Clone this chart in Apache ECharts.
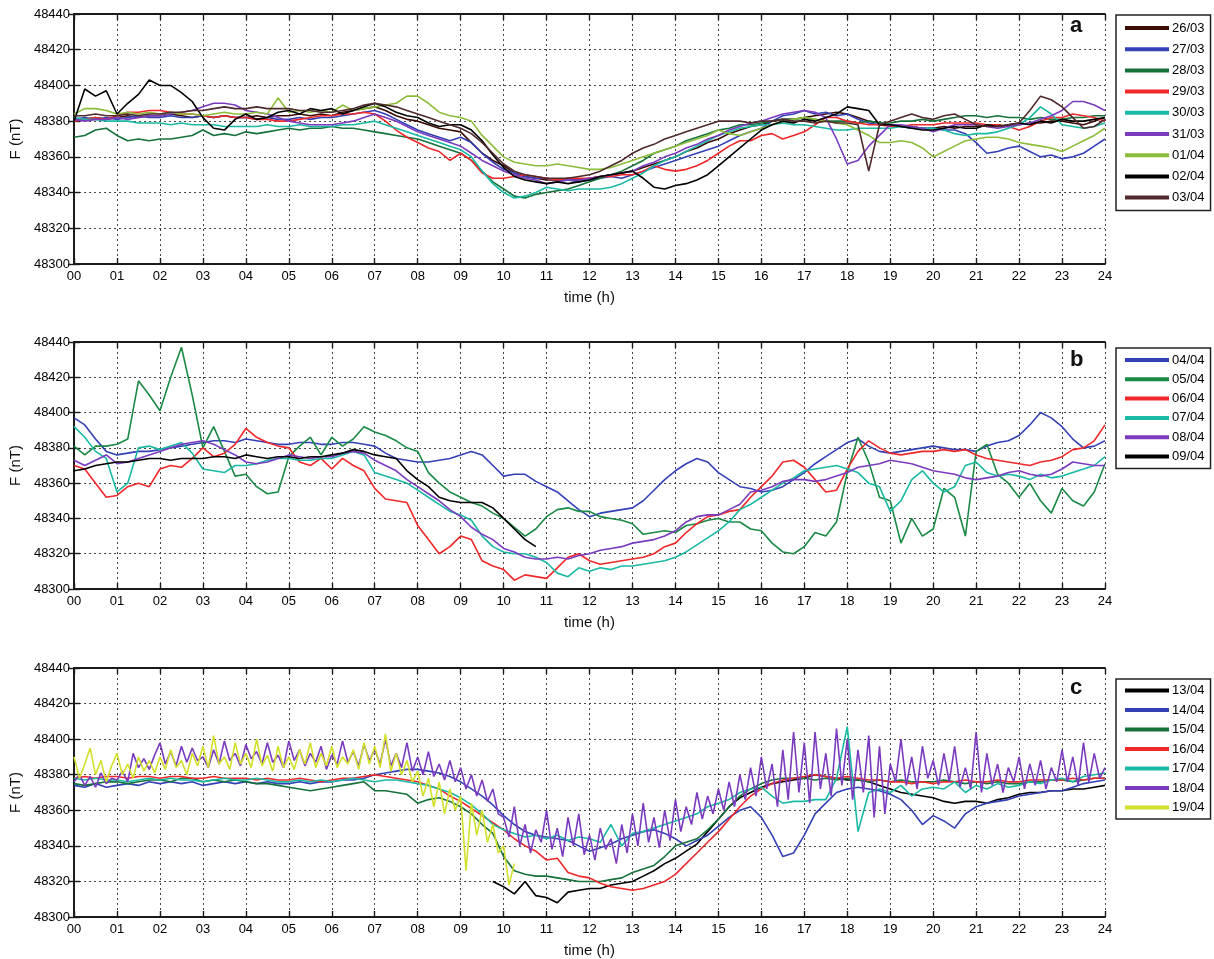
<!DOCTYPE html>
<html>
<head>
<meta charset="utf-8">
<script src="https://cdn.jsdelivr.net/npm/echarts@6/dist/echarts.min.js"></script>
<style>
  html, body { margin: 0; padding: 0; background: #fff; }
  #chart { width: 1214px; height: 959px; }
</style>
</head>
<body>
<div id="chart"></div>
<script>
// time grid (hours) and tick labels
const hourTicks = ['00','01','02','03','04','05','06','07','08','09','10','11','12','13','14','15','16','17','18','19','20','21','22','23','24'];
const yTicks = [48300, 48320, 48340, 48360, 48380, 48400, 48420, 48440];

// ---- panel a (26/03 - 03/04), one value every 15 min ----
const namesA = ['26/03', '27/03', '28/03', '29/03', '30/03', '31/03', '01/04', '02/04', '03/04'];
const colorsA = ['#3a0c06', '#3341b5', '#16723a', '#f0282a', '#19b9a4', '#7b3bbf', '#8cbd3a', '#000000', '#4e2a2c'];

const a2603 = [
  48380,48381,48382,48381, 48382,48383,48382,48383, 48383,48384,48383,48382, 48383,48382,48383,48382,
  48382,48383,48382,48383, 48383,48384,48383,48384, 48383,48385,48386,48387, 48388,48386,48383,48381,
  48380,48378,48376,48375, 48374,48368,48362,48358, 48355,48351,48349,48348, 48347,48347,48348,48347,
  48348,48349,48350,48351, 48352,48354,48356,48358, 48360,48363,48365,48368, 48370,48373,48375,48377,
  48378,48380,48381,48381, 48382,48383,48384,48385, 48384,48382,48380,48379, 48378,48377,48377,48376,
  48376,48377,48376,48377, 48377,48378,48378,48377, 48378,48379,48379,48380, 48380,48379,48378,48380,
  48382];
const a2703 = [
  48381,48382,48381,48382, 48381,48382,48383,48382, 48382,48383,48382,48382, 48383,48382,48383,48382,
  48382,48381,48382,48381, 48381,48382,48381,48382, 48382,48383,48384,48385, 48386,48384,48381,48378,
  48375,48373,48371,48369, 48371,48368,48362,48357, 48353,48351,48349,48348, 48348,48347,48347,48346,
  48347,48348,48349,48348, 48350,48352,48354,48356, 48358,48360,48362,48364, 48366,48369,48372,48374,
  48376,48380,48383,48384, 48386,48384,48385,48383, 48384,48381,48379,48378, 48378,48377,48376,48376,
  48376,48375,48375,48373, 48368,48362,48363,48365, 48366,48363,48360,48361, 48359,48360,48362,48366,
  48370];
const a2803 = [
  48371,48372,48375,48376, 48372,48369,48370,48369, 48370,48370,48371,48372, 48375,48372,48373,48372,
  48374,48373,48374,48375, 48376,48375,48376,48376, 48377,48376,48376,48375, 48374,48373,48372,48371,
  48370,48368,48366,48364, 48362,48358,48352,48346, 48342,48338,48337,48339, 48340,48341,48342,48344,
  48346,48348,48350,48352, 48355,48358,48362,48364, 48366,48369,48371,48373, 48375,48376,48378,48378,
  48379,48380,48381,48381, 48382,48381,48380,48380, 48380,48379,48380,48379, 48379,48380,48380,48381,
  48380,48381,48382,48383, 48383,48382,48383,48382, 48382,48381,48382,48381, 48381,48382,48382,48383,
  48383];
const a2903 = [
  48380,48381,48382,48381, 48383,48385,48385,48386, 48386,48385,48384,48384, 48383,48382,48383,48382,
  48382,48381,48381,48380, 48380,48381,48382,48383, 48383,48384,48384,48385, 48384,48380,48375,48371,
  48368,48365,48363,48358, 48362,48358,48351,48348, 48348,48349,48350,48349, 48348,48347,48348,48348,
  48348,48349,48349,48350, 48350,48352,48355,48353, 48352,48353,48355,48358, 48362,48366,48369,48369,
  48372,48373,48370,48372, 48374,48378,48382,48382, 48380,48379,48378,48378, 48377,48377,48378,48378,
  48378,48379,48379,48379, 48379,48378,48378,48377, 48375,48377,48380,48382, 48382,48384,48383,48382,
  48380];
const a3003 = [
  48382,48381,48381,48380, 48380,48380,48379,48379, 48379,48378,48379,48378, 48378,48378,48377,48377,
  48377,48377,48378,48377, 48377,48378,48377,48377, 48377,48378,48378,48379, 48380,48378,48376,48374,
  48372,48370,48368,48366, 48364,48360,48352,48345, 48340,48337,48338,48340, 48343,48342,48341,48342,
  48342,48342,48343,48345, 48348,48351,48355,48358, 48360,48363,48366,48369, 48372,48374,48376,48377,
  48378,48378,48379,48378, 48378,48377,48376,48375, 48375,48376,48376,48376, 48376,48377,48376,48376,
  48376,48375,48373,48372, 48373,48373,48374,48376, 48378,48382,48388,48384, 48378,48377,48376,48377,
  48379];
const a3103 = [
  48381,48380,48381,48381, 48382,48381,48382,48383, 48383,48384,48385,48386, 48388,48390,48390,48389,
  48386,48385,48384,48382, 48380,48379,48378,48378, 48378,48379,48380,48382, 48384,48382,48380,48377,
  48374,48372,48370,48368, 48366,48362,48358,48355, 48352,48350,48348,48347, 48345,48346,48347,48347,
  48348,48349,48350,48351, 48352,48355,48357,48360, 48362,48365,48367,48370, 48372,48375,48377,48379,
  48380,48382,48384,48385, 48386,48385,48382,48370, 48356,48358,48366,48372, 48378,48378,48377,48376,
  48374,48376,48378,48378, 48378,48377,48376,48377, 48378,48379,48381,48383, 48386,48391,48391,48389,
  48386];
const a0104 = [
  48384,48387,48387,48386, 48384,48385,48384,48385, 48384,48385,48384,48384, 48383,48384,48385,48384,
  48384,48385,48384,48393, 48385,48386,48385,48386, 48385,48389,48386,48387, 48388,48389,48390,48394,
  48394,48390,48385,48383, 48382,48380,48372,48366, 48360,48357,48356,48355, 48355,48356,48355,48354,
  48353,48353,48354,48356, 48358,48360,48362,48364, 48366,48368,48370,48372, 48375,48373,48372,48374,
  48376,48378,48380,48381, 48382,48381,48380,48379, 48378,48375,48372,48368, 48368,48369,48368,48365,
  48360,48363,48366,48369, 48370,48371,48371,48370, 48368,48367,48366,48365, 48363,48366,48369,48372,
  48376];
const a0204 = [
  48380,48398,48394,48397, 48384,48390,48395,48403, 48400,48400,48396,48391, 48382,48376,48375,48381,
  48384,48381,48382,48385, 48386,48384,48387,48386, 48387,48384,48386,48388, 48390,48388,48385,48383,
  48382,48379,48377,48378, 48378,48375,48369,48361, 48354,48349,48347,48346, 48345,48346,48345,48346,
  48347,48349,48350,48351, 48352,48348,48343,48342, 48344,48345,48347,48350, 48355,48360,48365,48370,
  48375,48378,48380,48379, 48381,48380,48382,48384, 48388,48387,48386,48378, 48378,48377,48376,48375,
  48375,48376,48377,48376, 48376,48378,48377,48378, 48379,48378,48380,48379, 48381,48380,48380,48381,
  48382];
const a0304 = [
  48383,48383,48384,48383, 48383,48384,48383,48384, 48384,48385,48385,48386, 48386,48387,48388,48387,
  48387,48388,48387,48387, 48387,48386,48386,48385, 48385,48386,48387,48389, 48390,48389,48388,48386,
  48384,48382,48380,48378, 48376,48373,48368,48362, 48356,48352,48350,48349, 48348,48348,48348,48349,
  48350,48352,48355,48358, 48362,48365,48367,48370, 48372,48374,48376,48378, 48380,48380,48380,48379,
  48380,48380,48381,48380, 48380,48379,48380,48379, 48379,48378,48352,48378, 48380,48382,48384,48382,
  48381,48383,48384,48381, 48378,48377,48377,48378, 48379,48386,48394,48392, 48388,48382,48376,48377,
  48381];

// ---- panel b (04/04 - 09/04) ----
const namesB = ['04/04', '05/04', '06/04', '07/04', '08/04', '09/04'];
const colorsB = ['#3341b5', '#1a8a45', '#f0282a', '#19b9a4', '#7b3bbf', '#000000'];

const b0404 = [
  48397,48393,48385,48378, 48376,48377,48378,48378, 48379,48380,48381,48382, 48383,48384,48384,48383,
  48385,48384,48383,48382, 48382,48383,48383,48382, 48382,48383,48383,48382, 48381,48377,48374,48373,
  48372,48372,48373,48374, 48376,48378,48376,48370, 48364,48365,48365,48361, 48358,48355,48350,48345,
  48341,48343,48344,48345, 48346,48350,48356,48362, 48367,48371,48374,48372, 48366,48362,48358,48357,
  48355,48356,48358,48362, 48366,48371,48375,48379, 48383,48385,48381,48378, 48377,48378,48379,48380,
  48381,48380,48379,48379, 48378,48381,48383,48384, 48387,48393,48400,48397, 48392,48385,48380,48381,
  48384];
const b0504 = [
  48381,48376,48381,48381, 48382,48385,48418,48410, 48401,48420,48437,48410, 48380,48392,48378,48364,
  48365,48358,48354,48355, 48375,48381,48386,48376, 48386,48381,48385,48392, 48389,48387,48384,48380,
  48378,48366,48360,48355, 48352,48349,48347,48343, 48340,48335,48330,48334, 48341,48345,48346,48344,
  48344,48341,48340,48339, 48337,48331,48332,48333, 48332,48336,48337,48339, 48340,48338,48338,48334,
  48333,48326,48321,48320, 48324,48332,48330,48338, 48366,48386,48372,48352, 48350,48326,48340,48330,
  48334,48357,48352,48330, 48378,48382,48365,48360, 48352,48360,48350,48343, 48357,48350,48347,48355,
  48371];
const b0604 = [
  48370,48368,48360,48352, 48353,48358,48360,48358, 48368,48370,48369,48374, 48380,48375,48377,48382,
  48391,48386,48383,48381, 48380,48372,48370,48374, 48368,48374,48370,48367, 48357,48351,48350,48349,
  48336,48328,48320,48324, 48330,48328,48316,48313, 48311,48305,48308,48307, 48306,48312,48318,48320,
  48316,48314,48315,48316, 48317,48318,48320,48324, 48326,48332,48337,48341, 48342,48344,48345,48352,
  48358,48364,48372,48373, 48369,48362,48355,48356, 48368,48378,48384,48380, 48377,48376,48377,48378,
  48378,48379,48378,48379, 48376,48374,48373,48372, 48371,48370,48372,48373, 48375,48379,48380,48384,
  48393];
const b0704 = [
  48392,48386,48378,48374, 48355,48360,48380,48381, 48379,48381,48383,48377, 48368,48367,48366,48370,
  48370,48371,48373,48374, 48374,48373,48373,48374, 48374,48376,48378,48376, 48366,48364,48362,48360,
  48356,48352,48348,48344, 48342,48339,48330,48324, 48321,48320,48320,48318, 48315,48309,48307,48312,
  48310,48312,48311,48313, 48313,48314,48315,48316, 48318,48321,48325,48329, 48333,48338,48345,48348,
  48352,48356,48360,48363, 48367,48368,48369,48370, 48368,48366,48360,48358, 48344,48350,48362,48367,
  48360,48355,48358,48370, 48372,48366,48364,48365, 48364,48362,48365,48363, 48364,48366,48368,48370,
  48375];
const b0804 = [
  48373,48370,48373,48376, 48371,48372,48374,48376, 48378,48380,48382,48383, 48384,48382,48379,48376,
  48372,48371,48372,48374, 48376,48375,48374,48375, 48375,48377,48378,48377, 48373,48370,48367,48362,
  48358,48354,48350,48345, 48341,48335,48331,48328, 48323,48321,48318,48317, 48317,48318,48317,48319,
  48320,48322,48323,48324, 48326,48327,48328,48330, 48333,48338,48341,48342, 48342,48345,48348,48355,
  48356,48358,48361,48362, 48362,48361,48362,48364, 48366,48369,48370,48371, 48373,48372,48371,48369,
  48367,48366,48365,48363, 48362,48363,48364,48366, 48367,48365,48364,48365, 48368,48372,48371,48370,
  48370];
// 09/04 stops at 10:45
const b0904 = [
  48367,48368,48370,48371, 48372,48372,48373,48374, 48374,48373,48374,48374, 48374,48375,48375,48374,
  48376,48375,48374,48375, 48375,48374,48375,48375, 48376,48377,48379,48378, 48376,48375,48374,48367,
  48362,48358,48352,48350, 48349,48349,48349,48346, 48340,48334,48328,48324];

// ---- panel c (13/04 - 19/04) ----
const namesC = ['13/04', '14/04', '15/04', '16/04', '17/04', '18/04', '19/04'];
const colorsC = ['#000000', '#3341b5', '#16723a', '#f0282a', '#19b9a4', '#7b3bbf', '#d2e02a'];

// 13/04 starts at 09:45
const c1304 = [
  48320,
  48317,48313,48320,48312, 48311,48308,48314,48315, 48316,48316,48318,48319, 48320,48323,48326,48330,
  48333,48337,48341,48348, 48355,48362,48367,48370, 48373,48375,48376,48377, 48378,48380,48379,48378,
  48377,48377,48376,48374, 48372,48370,48369,48368, 48367,48365,48364,48365, 48365,48364,48366,48367,
  48369,48370,48370,48371, 48371,48372,48372,48373, 48374];
const c1404 = [
  48374,48373,48375,48373, 48374,48375,48374,48376, 48375,48376,48375,48376, 48374,48375,48376,48375,
  48376,48375,48376,48375, 48375,48376,48375,48376, 48376,48377,48377,48378, 48380,48381,48382,48383,
  48383,48382,48381,48379, 48376,48372,48368,48363, 48357,48352,48348,48346, 48345,48344,48343,48340,
  48337,48339,48341,48344, 48346,48348,48349,48347, 48344,48340,48343,48346, 48351,48356,48360,48362,
  48356,48346,48334,48336, 48346,48358,48364,48370, 48372,48373,48372,48371, 48369,48366,48360,48352,
  48357,48354,48350,48358, 48362,48364,48365,48366, 48368,48369,48370,48371, 48371,48373,48375,48376,
  48377];
const c1504 = [
  48375,48374,48375,48376, 48376,48375,48376,48377, 48377,48376,48378,48378, 48376,48377,48376,48377,
  48376,48375,48375,48374, 48373,48372,48371,48372, 48373,48374,48375,48376, 48371,48371,48370,48369,
  48364,48366,48367,48365, 48362,48358,48352,48347, 48334,48326,48324,48323, 48323,48322,48321,48320,
  48320,48320,48321,48322, 48325,48327,48329,48334, 48340,48342,48344,48349, 48355,48362,48368,48372,
  48375,48377,48378,48378, 48378,48377,48378,48377, 48378,48377,48376,48377, 48376,48377,48376,48376,
  48376,48377,48376,48375, 48376,48375,48376,48375, 48375,48376,48376,48377, 48377,48376,48377,48378,
  48378];
const c1604 = [
  48378,48379,48378,48379, 48379,48378,48379,48379, 48378,48379,48379,48378, 48378,48379,48378,48378,
  48378,48377,48378,48377, 48377,48378,48377,48376, 48377,48378,48378,48379, 48380,48379,48378,48377,
  48376,48374,48372,48368, 48365,48361,48357,48353, 48349,48344,48340,48337, 48332,48333,48325,48323,
  48322,48319,48317,48316, 48315,48316,48318,48320, 48324,48330,48336,48342, 48348,48355,48362,48368,
  48372,48375,48377,48378, 48379,48380,48379,48378, 48379,48378,48377,48377, 48376,48376,48375,48376,
  48375,48376,48376,48377, 48376,48376,48377,48376, 48376,48377,48377,48377, 48377,48378,48377,48378,
  48378];
const c1704 = [
  48378,48377,48378,48377, 48377,48376,48377,48378, 48377,48378,48377,48377, 48376,48377,48378,48377,
  48377,48378,48377,48376, 48376,48377,48376,48377, 48376,48377,48378,48377, 48376,48377,48377,48376,
  48375,48374,48372,48370, 48367,48363,48358,48352, 48349,48347,48345,48346, 48344,48346,48343,48345,
  48344,48342,48352,48340, 48347,48348,48350,48352, 48354,48356,48358,48362, 48364,48366,48370,48372,
  48373,48368,48364,48365, 48365,48366,48366,48378, 48407,48348,48370,48372, 48370,48374,48368,48372,
  48373,48372,48376,48370, 48374,48372,48375,48373, 48374,48376,48375,48377, 48378,48376,48379,48380,
  48381];
// 18/04 and 19/04 are very noisy: one value every 7.5 min
const c1804 = [
  48376,48380,48374,48379,48373,48381,48375,48378, 48377,48382,48376,48392,48384,48389,48383,48391,
  48398,48386,48393,48385,48396,48387,48395,48388, 48390,48384,48394,48386,48399,48388,48392,48385,
  48397,48389,48393,48386,48398,48387,48391,48384, 48399,48388,48394,48385,48392,48387,48396,48383,
  48391,48386,48399,48387,48393,48385,48397,48388, 48394,48386,48400,48385,48392,48384,48398,48382,
  48390,48380,48393,48379,48386,48377,48388,48376, 48384,48372,48380,48368,48377,48365,48372,48358,
  48356,48345,48362,48340,48352,48336,48349,48342, 48360,48338,48350,48334,48356,48340,48358,48335,
  48346,48332,48350,48338,48344,48330,48352,48336, 48358,48340,48364,48342,48356,48339,48360,48343,
  48366,48348,48362,48352,48370,48355,48368,48358, 48372,48360,48376,48362,48380,48366,48384,48368,
  48390,48372,48386,48362,48394,48366,48404,48370, 48398,48364,48404,48372,48392,48368,48406,48374,
  48400,48366,48394,48370,48402,48356,48396,48358, 48386,48376,48400,48374,48390,48372,48396,48378,
  48388,48374,48392,48376,48396,48373,48384,48372, 48404,48370,48392,48374,48386,48370,48384,48376,
  48390,48372,48386,48374,48388,48372,48384,48376, 48394,48376,48390,48374,48398,48376,48392,48378,
  48384];
// 19/04 stops at 10:15
const c1904 = [
  48390,48378,48386,48395,48380,48388,48376,48385, 48392,48380,48386,48378,48390,48382,48388,48381,
  48390,48383,48394,48384,48388,48380,48392,48385, 48396,48384,48402,48386,48390,48383,48398,48386,
  48392,48384,48400,48385,48391,48382,48396,48384, 48390,48383,48394,48386,48398,48384,48392,48385,
  48396,48384,48390,48386,48394,48383,48398,48386, 48396,48384,48403,48382,48392,48380,48388,48376,
  48382,48368,48378,48362,48376,48358,48372,48360, 48368,48326,48364,48346,48360,48342,48352,48336,
  48340,48318,48330];

function pts(start, step, vals) {
  return vals.map((v, i) => [start + i * step, v]);
}

const panels = [
  { names: namesA, colors: colorsA, data: [pts(0, .25, a2603), pts(0, .25, a2703), pts(0, .25, a2803), pts(0, .25, a2903), pts(0, .25, a3003), pts(0, .25, a3103), pts(0, .25, a0104), pts(0, .25, a0204), pts(0, .25, a0304)], top: 14, height: 250, legendTop: 15, gap: 7.2, pad: 6, letter: 'a', letterY: 28 },
  { names: namesB, colors: colorsB, data: [pts(0, .25, b0404), pts(0, .25, b0504), pts(0, .25, b0604), pts(0, .25, b0704), pts(0, .25, b0804), pts(0, .25, b0904)], top: 342, height: 247, legendTop: 348, gap: 5.3, pad: 5, letter: 'b', letterY: 362 },
  { names: namesC, colors: colorsC, data: [pts(9.75, .25, c1304), pts(0, .25, c1404), pts(0, .25, c1504), pts(0, .25, c1604), pts(0, .25, c1704), pts(0, .125, c1804), pts(0, .125, c1904)], top: 668, height: 249, legendTop: 679, gap: 5.5, pad: 4.5, letter: 'c', letterY: 690 }
];

const FONT = 'Liberation Sans, Arial, sans-serif';
const grid = [], xAxis = [], yAxis = [], series = [], legend = [], graphic = [];

panels.forEach((p, k) => {
  grid.push({ left: 74, top: p.top, width: 1031, height: p.height });
  const axisLine = { show: true, lineStyle: { color: '#1a1a1a', width: 1.8 } };
  const tick = { show: true, inside: true, length: 6, lineStyle: { color: '#1a1a1a', width: 1.4 } };
  const split = { show: true, lineStyle: { color: '#444', width: 1, type: [2, 3] } };
  xAxis.push({
    type: 'value', gridIndex: k, min: 0, max: 24, interval: 1,
    axisLine, axisTick: tick, splitLine: split,
    axisLabel: { color: '#000', fontFamily: FONT, fontSize: 13, margin: 6, formatter: v => hourTicks[v] },
    name: 'time (h)', nameLocation: 'middle', nameGap: 26,
    nameTextStyle: { color: '#111', fontFamily: FONT, fontSize: 15 }
  });
  xAxis.push({
    type: 'value', gridIndex: k, min: 0, max: 24, interval: 1, position: 'top',
    axisLine, axisTick: tick, splitLine: { show: false }, axisLabel: { show: false }
  });
  yAxis.push({
    type: 'value', gridIndex: k, min: yTicks[0], max: yTicks[yTicks.length - 1], interval: 20,
    axisLine, axisTick: tick, splitLine: split,
    axisLabel: { color: '#000', fontFamily: FONT, fontSize: 13, margin: 4, formatter: v => String(v) },
    name: 'F (nT)', nameLocation: 'middle', nameGap: 49,
    nameTextStyle: { color: '#111', fontFamily: FONT, fontSize: 15 }
  });
  yAxis.push({
    type: 'value', gridIndex: k, min: yTicks[0], max: yTicks[yTicks.length - 1], interval: 20, position: 'right',
    axisLine, axisTick: tick, splitLine: { show: false }, axisLabel: { show: false }
  });
  p.names.forEach((n, j) => {
    series.push({
      name: n, type: 'line', xAxisIndex: 2 * k, yAxisIndex: 2 * k,
      data: p.data[j], showSymbol: false, symbol: 'none',
      lineStyle: { color: p.colors[j], width: 1.6 }, itemStyle: { color: p.colors[j] },
      z: 2 + j
    });
  });
  legend.push({
    data: p.names, orient: 'vertical', left: 1116, top: p.legendTop,
    backgroundColor: '#fff', borderColor: '#222', borderWidth: 1.5, borderRadius: 0,
    padding: [p.pad, 6, p.pad, 9], itemGap: p.gap, itemWidth: 44, itemHeight: 4,
    icon: 'rect', selectedMode: false,
    textStyle: { color: '#000', fontFamily: FONT, fontSize: 13, lineHeight: 14, padding: [0, 0, 0, -2] }
  });
  graphic.push({
    type: 'text', left: 1070, top: p.letterY - 13,
    style: { text: p.letter, font: 'bold 22px ' + FONT, fill: '#111' }
  });
});

const chart = echarts.init(document.getElementById('chart'));
chart.setOption({
  animation: false,
  backgroundColor: '#fff',
  grid, xAxis, yAxis, series, legend, graphic
});
</script>
</body>
</html>
